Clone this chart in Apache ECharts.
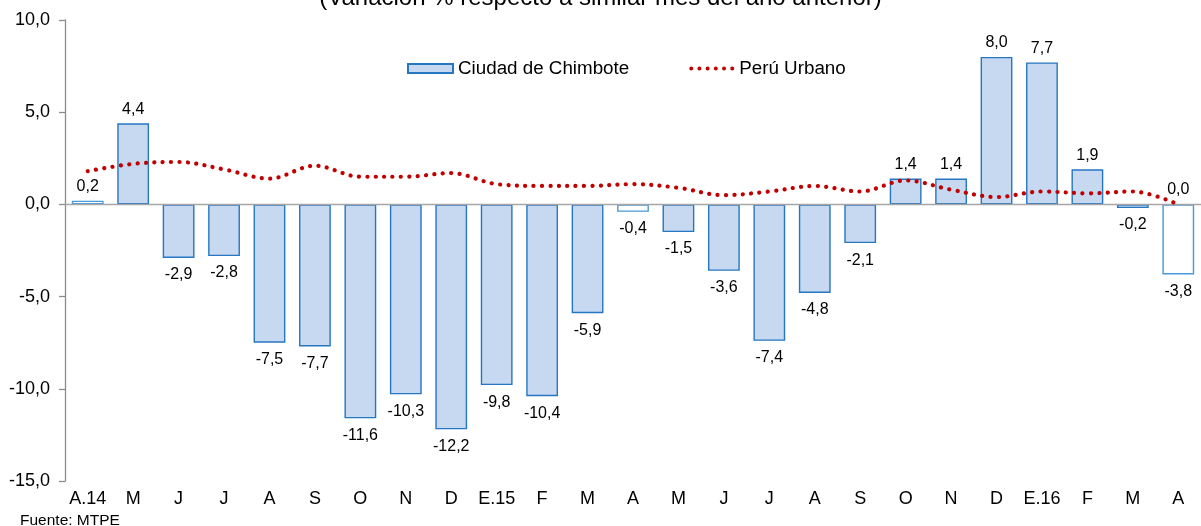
<!DOCTYPE html>
<html>
<head>
<meta charset="utf-8">
<script src="https://cdn.jsdelivr.net/npm/echarts@6/dist/echarts.min.js"></script>
<style>
html,body{margin:0;padding:0;background:#fff;}
#c{width:1201px;height:526px;}
</style>
</head>
<body>
<div id="c"></div>
<script>
const categories = ['A.14','M','J','J','A','S','O','N','D','E.15','F','M','A','M','J','J','A','S','O','N','D','E.16','F','M','A'];
const chimbote = [0.2,4.4,-2.9,-2.8,-7.5,-7.7,-11.6,-10.3,-12.2,-9.8,-10.4,-5.9,-0.4,-1.5,-3.6,-7.4,-4.8,-2.1,1.4,1.4,8.0,7.7,1.9,-0.2,-3.8];
const peruUrbano = [1.8,2.2,2.3,1.9,1.4,2.1,1.5,1.5,1.7,1.1,1.0,1.0,1.1,0.9,0.5,0.7,1.0,0.7,1.3,0.8,0.4,0.7,0.6,0.7,0.0];
const yMin = -15, yMax = 10, yStep = 5;
const titleText = '(Variación % respecto a similar mes del año anterior)';
const sourceText = 'Fuente: MTPE';

const FONT = '"Liberation Sans", Arial, sans-serif';
const fmt = v => Number(v).toFixed(1).replace('.', ',');

// six round dots for the legend icon of the dotted line
let dotsPath = 'path://';
for (let k = 0; k < 6; k++) {
  const cx = 2 + k * 8.2;
  dotsPath += 'M' + (cx - 2) + ',2 a2,2 0 1,0 4,0 a2,2 0 1,0 -4,0 ';
}

const barData = chimbote.map((v, i) => {
  const isApril = i % 12 === 0;
  return {
    value: v,
    itemStyle: isApril
      ? { color: '#ffffff', borderColor: '#4A98D8', borderWidth: 1.4 }
      : { color: '#C6D9F0', borderColor: '#2676C2', borderWidth: 1.4 },
    label: { position: v >= 0 ? 'top' : 'bottom', distance: v >= 0 ? 6 : 9 }
  };
});

const lineData = peruUrbano.map((v, i) => ({
  value: v,
  label: { show: i === peruUrbano.length - 1 }
}));

const chart = echarts.init(document.getElementById('c'), null, { renderer: 'canvas' });
chart.setOption({
  animation: false,
  backgroundColor: '#ffffff',
  textStyle: { fontFamily: FONT },
  grid: { left: 65, right: -4, top: 20, bottom: 45, containLabel: false },
  legend: {
    left: 402, top: 54,
    itemWidth: 45, itemHeight: 9, itemGap: 60,
    textStyle: { fontFamily: FONT, fontSize: 18.8, color: '#000' },
    data: [
      { name: 'Ciudad de Chimbote', icon: 'rect' },
      { name: 'Perú Urbano', icon: dotsPath, itemStyle: { color: '#C00000', borderWidth: 0 } }
    ]
  },
  xAxis: {
    type: 'category',
    data: categories,
    position: 'bottom',
    axisLine: { show: false, onZero: false },
    axisTick: { show: false },
    axisLabel: { fontFamily: FONT, fontSize: 18, color: '#000', margin: 9, interval: 0 },
    splitLine: { show: false }
  },
  yAxis: {
    type: 'value',
    min: yMin, max: yMax, interval: yStep,
    axisLine: { show: true, lineStyle: { color: '#8C8C8C', width: 1.3 } },
    axisTick: { show: true, length: 6, inside: false, lineStyle: { color: '#8C8C8C', width: 1.3 } },
    axisLabel: { fontFamily: FONT, fontSize: 18, color: '#000', margin: 15, formatter: v => fmt(v) },
    splitLine: { show: false }
  },
  graphic: [
    { type: 'text', left: 'center', top: -14,
      style: { text: titleText, font: '24px ' + FONT, fill: '#000' } },
    { type: 'text', left: 20, top: 513,
      style: { text: sourceText, font: '15.5px ' + FONT, fill: '#000' } }
  ],
  series: [
    {
      name: 'Ciudad de Chimbote',
      type: 'bar',
      data: barData,
      barWidth: '70%',
      itemStyle: { color: '#C6D9F0', borderColor: '#2676C2', borderWidth: 1.4 },
      label: { show: true, fontFamily: FONT, fontSize: 16, color: '#000', formatter: p => fmt(p.value) },
      markLine: {
        silent: true, symbol: 'none',
        label: { show: false },
        lineStyle: { color: '#A6A6A6', width: 1.3, type: 'solid' },
        data: [{ yAxis: 0 }]
      },
      z: 2
    },
    {
      name: 'Perú Urbano',
      type: 'line',
      data: lineData,
      smooth: 0.35,
      symbol: 'circle',
      symbolSize: 0.01,
      showSymbol: true,
      lineStyle: { color: '#C00000', width: 4.2, type: [0.1, 8.3], cap: 'round' },
      itemStyle: { color: '#C00000' },
      label: { show: false, position: 'top', distance: 7, fontFamily: FONT, fontSize: 16, color: '#000', formatter: p => fmt(p.value) },
      z: 5
    }
  ]
});
</script>
</body>
</html>
